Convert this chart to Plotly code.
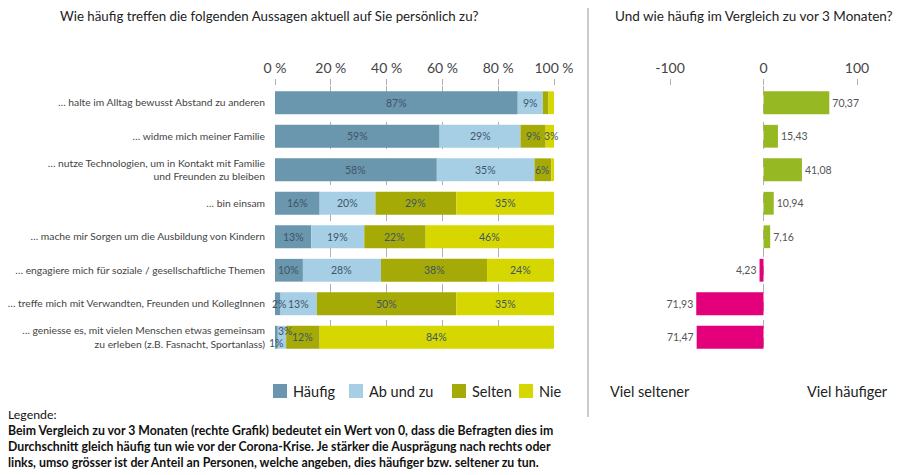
import plotly.graph_objects as go

categories = [
    "… halte im Alltag bewusst Abstand zu anderen",
    "… widme mich meiner Familie",
    "… nutze Technologien, um in Kontakt mit Familie<br>und Freunden zu bleiben",
    "… bin einsam",
    "… mache mir Sorgen um die Ausbildung von Kindern",
    "… engagiere mich für soziale / gesellschaftliche Themen",
    "… treffe mich mit Verwandten, Freunden und KollegInnen",
    "… geniesse es, mit vielen Menschen etwas gemeinsam<br>zu erleben (z.B. Fasnacht, Sportanlass)",
]
haeufig = [87, 59, 58, 16, 13, 10, 2, 1]
ab_und_zu = [9, 29, 35, 20, 19, 28, 13, 3]
selten = [2, 9, 6, 29, 22, 38, 50, 12]
nie = [2, 3, 1, 35, 46, 24, 35, 84]
# which segment values get a label
show_h = [True, True, True, True, True, True, True, True]
show_a = [True, True, True, True, True, True, True, True]
show_s = [False, True, True, True, True, True, True, True]
show_n = [False, True, False, True, True, True, True, True]

vergleich = [70.37, 15.43, 41.08, 10.94, 7.16, -4.23, -71.93, -71.47]

left_ticks = [0, 20, 40, 60, 80, 100]
left_ticklabels = ["0 %", "20 %", "40 %", "60 %", "80 %", "100 %"]
right_ticks = [-100, 0, 100]
right_ticklabels = ["-100", "0", "100"]

series_names = ["Häufig", "Ab und zu", "Selten", "Nie"]
series_values = [haeufig, ab_und_zu, selten, nie]
series_show = [show_h, show_a, show_s, show_n]
series_colors = ["#6a96ae", "#a6cfe6", "#a6aa06", "#d6d700"]

FONT = "Lato, 'Open Sans', sans-serif"
LABEL_COLOR = "#3f5566"

fig = go.Figure()
for name, vals, color in zip(series_names, series_values, series_colors):
    fig.add_trace(go.Bar(
        y=categories, x=vals, orientation="h", name=name, showlegend=False,
        marker=dict(color=color, line=dict(width=0)),
        width=0.68, xaxis="x", yaxis="y", hoverinfo="skip",
    ))

# segment labels, centred in each segment (computed from the data)
last = len(categories) - 1
for i, cat in enumerate(categories):
    start = 0
    for k, (vals, show) in enumerate(zip(series_values, series_show)):
        v = vals[i]
        if show[i]:
            yshift = 0
            xshift = 0
            if i == last and k == 0:
                yshift = -6
            elif i == last and k == 1:
                yshift = 6
                xshift = 4
            elif v <= 3:
                xshift = 2
            fig.add_annotation(x=start + v / 2, y=cat, xref="x", yref="y",
                               text=f"{v}%", showarrow=False, yshift=yshift, xshift=xshift,
                               font=dict(size=10.5, color=LABEL_COLOR, family=FONT))
        start += v

fig.add_trace(go.Bar(
    y=categories, x=vergleich, orientation="h", showlegend=False,
    marker=dict(color=["#95b823" if v >= 0 else "#e3007a" for v in vergleich], line=dict(width=0)),
    text=[f"{abs(v):.2f}".replace(".", ",") for v in vergleich],
    textposition="outside", cliponaxis=False, textangle=0,
    textfont=dict(size=10.5, color="#555555", family=FONT),
    width=0.68, xaxis="x2", yaxis="y2", hoverinfo="skip",
))

ydom = [1 - 354 / 475, 1 - 86 / 475]
fig.update_layout(
    width=900, height=475,
    margin=dict(l=0, r=0, t=0, b=0, autoexpand=False),
    paper_bgcolor="white", plot_bgcolor="white",
    barmode="relative",
    font=dict(family=FONT, color="#333333"),
    xaxis=dict(domain=[275 / 900, 554 / 900], range=[0, 100], side="top",
               tickvals=left_ticks, ticktext=left_ticklabels,
               tickfont=dict(size=14, color="#444444"),
               showgrid=True, gridcolor="#b0b0b0", griddash="dash", gridwidth=1,
               ticks="outside", ticklen=6, tickcolor="#b0b0b0",
               zeroline=False, showline=False, automargin=False),
    yaxis=dict(domain=ydom, autorange="reversed", tickfont=dict(size=10.3, color="#444444"),
               ticks="", ticklabelstandoff=9, showgrid=False, zeroline=False, automargin=False),
    xaxis2=dict(domain=[670 / 900, 857 / 900], range=[-100, 100], side="top", anchor="y2",
                tickvals=right_ticks, ticktext=right_ticklabels, tickfont=dict(size=14, color="#444444"),
                showgrid=True, gridcolor="#b0b0b0", griddash="dash", gridwidth=1,
                ticks="outside", ticklen=6, tickcolor="#b0b0b0",
                zeroline=False, showline=False, automargin=False),
    yaxis2=dict(domain=ydom, anchor="x2", autorange="reversed", showticklabels=False,
                ticks="", showgrid=False, zeroline=False, automargin=False),
    showlegend=False,
)

# manual legend (swatch + label)
legend_x = [273, 349, 452, 519]
for lx, name, color in zip(legend_x, series_names, series_colors):
    fig.add_shape(type="rect", xref="paper", yref="paper",
                  x0=lx / 900, x1=(lx + 14) / 900, y0=1 - 398 / 475, y1=1 - 384 / 475,
                  fillcolor=color, line=dict(width=0))
    fig.add_annotation(x=(lx + 18) / 900, y=1 - 391 / 475, xref="paper", yref="paper",
                       xanchor="left", yanchor="middle", text=name, showarrow=False,
                       font=dict(size=14.5, color="#222222", family=FONT))

# titles
fig.add_annotation(x=58 / 900, y=1 - 16 / 475, xref="paper", yref="paper", xanchor="left", yanchor="middle",
                   text="Wie häufig treffen die folgenden Aussagen aktuell auf Sie persönlich zu?",
                   showarrow=False, font=dict(size=13.3, color="#222222", family=FONT))
fig.add_annotation(x=754 / 900, y=1 - 16 / 475, xref="paper", yref="paper", xanchor="center", yanchor="middle",
                   text="Und wie häufig im Vergleich zu vor 3 Monaten?",
                   showarrow=False, font=dict(size=13.5, color="#222222", family=FONT))
fig.add_annotation(x=608 / 900, y=1 - 391 / 475, xref="paper", yref="paper", xanchor="left", yanchor="middle",
                   text="Viel seltener", showarrow=False, font=dict(size=14.5, color="#222222", family=FONT))
fig.add_annotation(x=890 / 900, y=1 - 391 / 475, xref="paper", yref="paper", xanchor="right", yanchor="middle",
                   text="Viel häufiger", showarrow=False, font=dict(size=14.5, color="#222222", family=FONT))

# legend text at bottom
fig.add_annotation(x=6 / 900, y=1 - 405 / 475, xref="paper", yref="paper", xanchor="left", yanchor="top",
                   align="left", showarrow=False,
                   text=("Legende:<br><b>Beim Vergleich zu vor 3 Monaten (rechte Grafik) bedeutet ein Wert von 0, dass die Befragten dies im<br>"
                         "Durchschnitt gleich häufig tun wie vor der Corona-Krise. Je stärker die Ausprägung nach rechts oder<br>"
                         "links, umso grösser ist der Anteil an Personen, welche angeben, dies häufiger bzw. seltener zu tun.</b>"),
                   font=dict(size=12.3, color="#111111", family=FONT))

# separator line
fig.add_shape(type="line", xref="paper", yref="paper", x0=588 / 900, x1=588 / 900,
              y0=1 - 417 / 475, y1=1 - 8 / 475, line=dict(color="#999999", width=1))

fig.write_html("out.html")
